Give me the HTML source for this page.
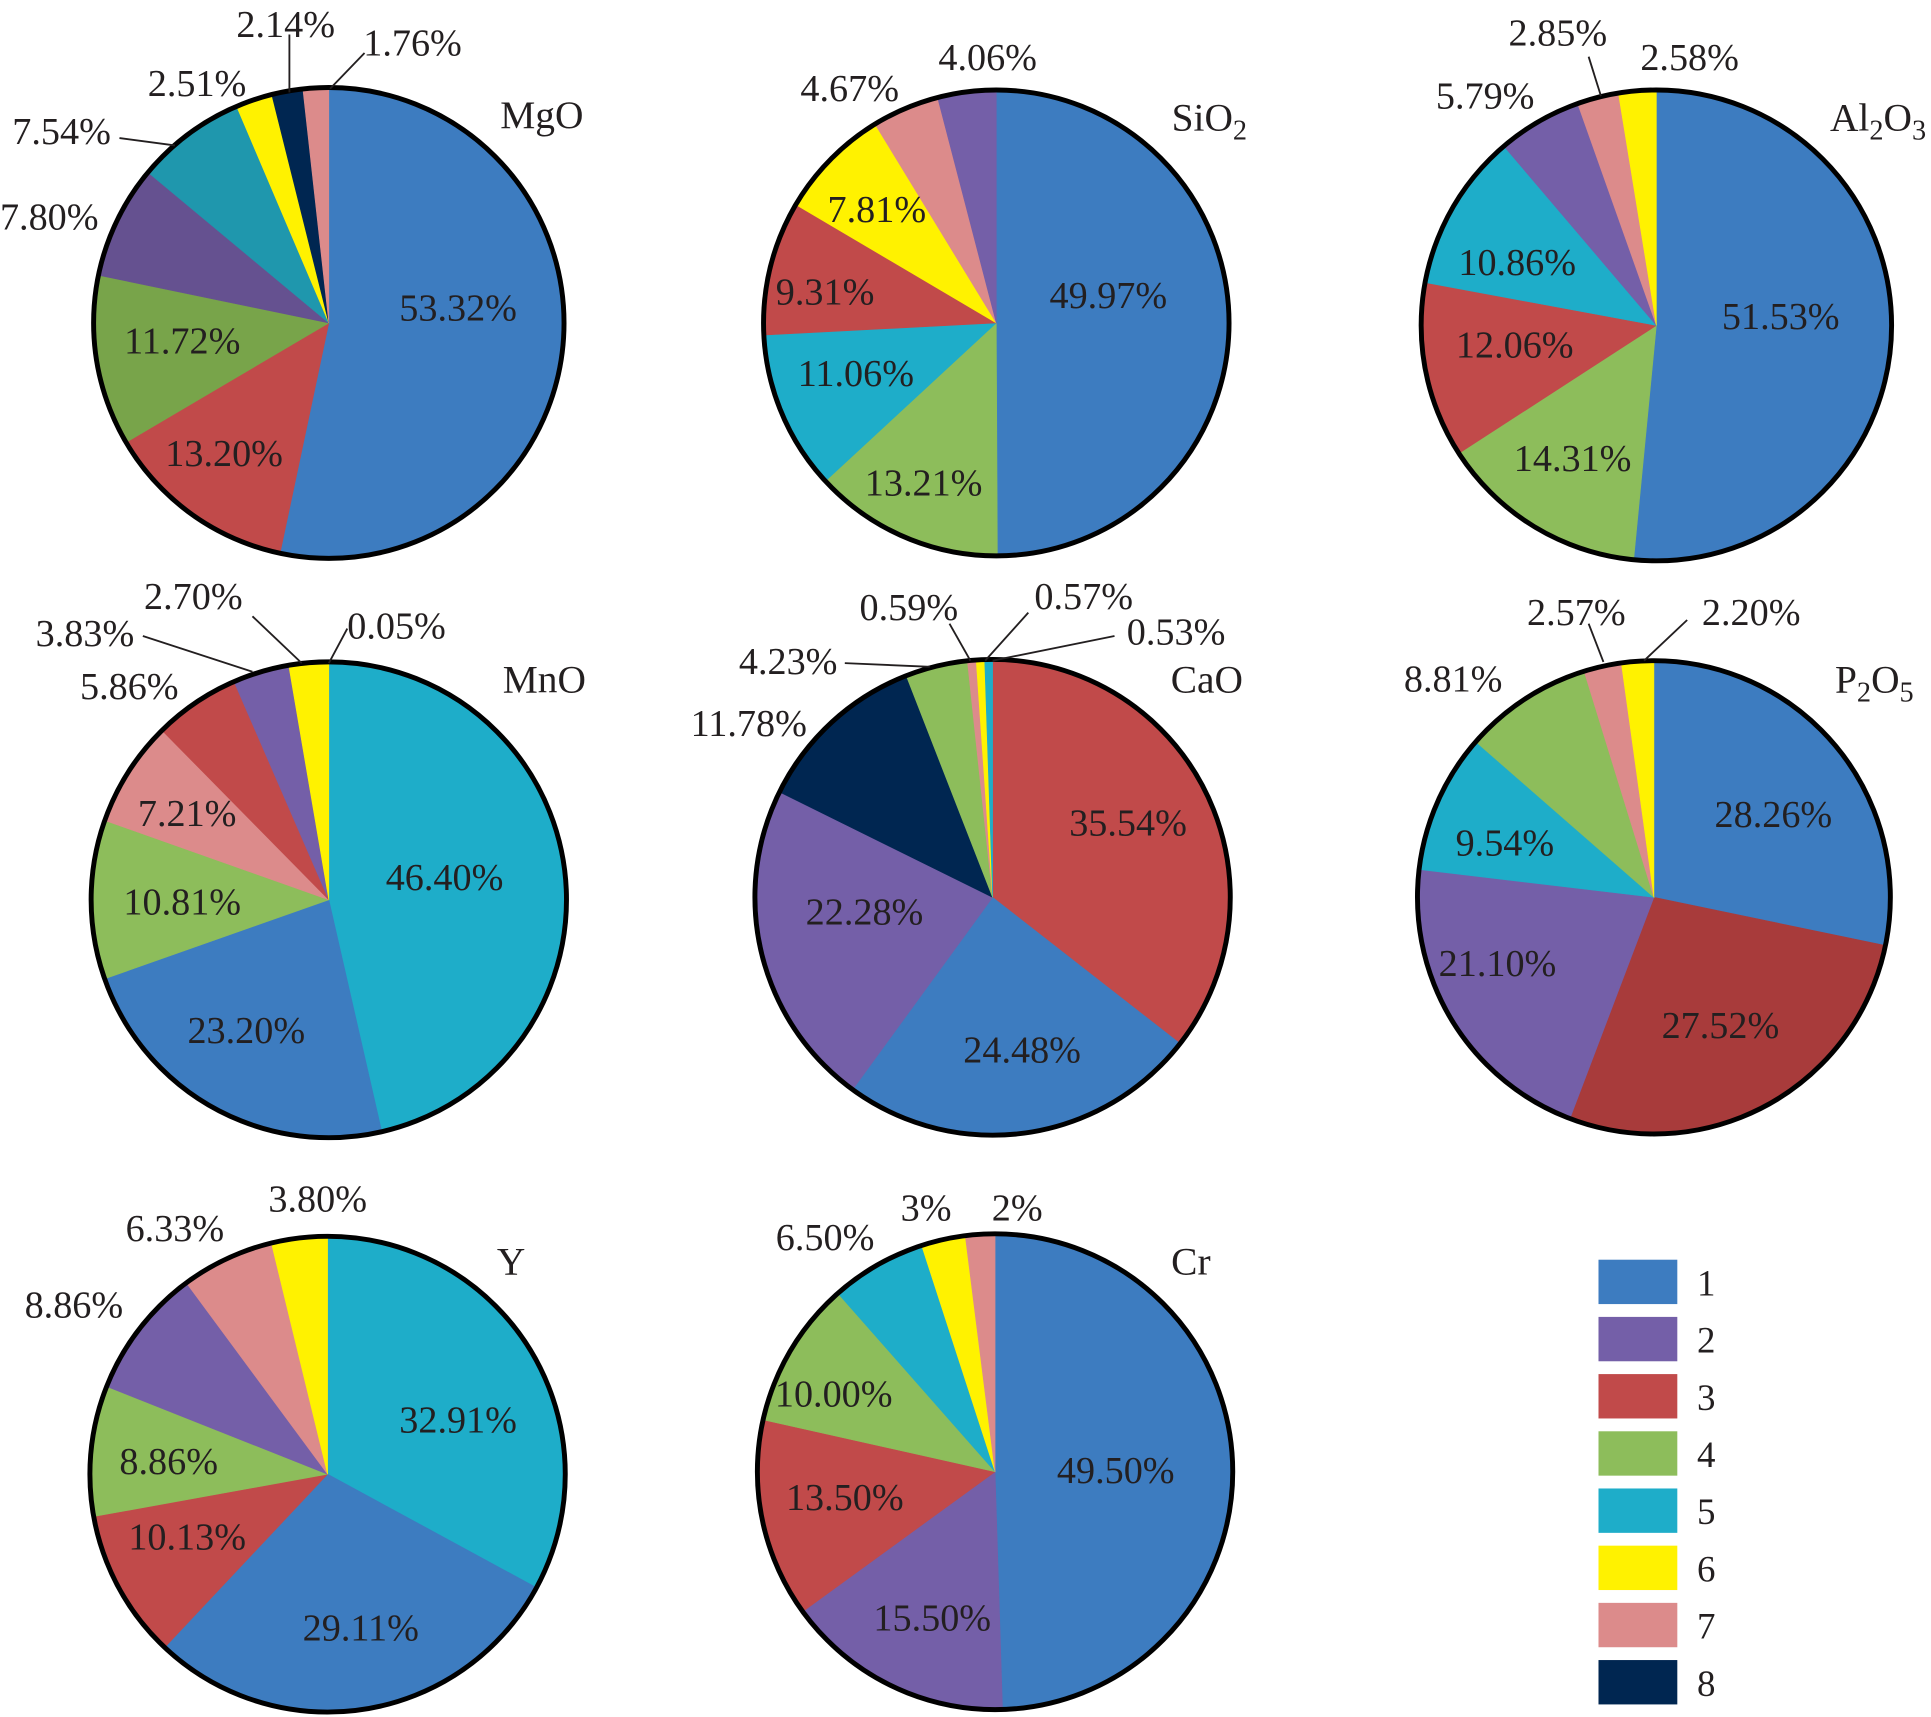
<!DOCTYPE html>
<html><head><meta charset="utf-8">
<style>
html,body{margin:0;padding:0;background:#fff;}
svg{display:block;}
text{font-family:"Liberation Serif",serif;fill:#231f20;}
</style></head>
<body>
<svg id="chart" width="1931" height="1717" viewBox="0 0 1568 1393" preserveAspectRatio="none" xmlns="http://www.w3.org/2000/svg">
</svg>
<script>
const colors = {1:'#3d7cc0',2:'#745fa8',3:'#c14a4a',4:'#8dbd5b',5:'#1eadc9',6:'#fff200',7:'#dc8b8b',8:'#002651'};
const titles = ['MgO','SiO2','Al2O3','MnO','CaO','P2O5','Y','Cr'];
const mgoCats = [1,3,4,2,5,6,8,7];
const mgoVals = [53.32,13.20,11.72,7.80,7.54,2.51,2.14,1.76];
const mgoLabels = ['53.32%','13.20%','11.72%','7.80%','7.54%','2.51%','2.14%','1.76%'];
const sio2Cats = [1,4,5,3,6,7,2];
const sio2Vals = [49.97,13.21,11.06,9.31,7.81,4.67,4.06];
const sio2Labels = ['49.97%','13.21%','11.06%','9.31%','7.81%','4.67%','4.06%'];
const al2o3Cats = [1,4,3,5,2,7,6];
const al2o3Vals = [51.53,14.31,12.06,10.86,5.79,2.85,2.58];
const al2o3Labels = ['51.53%','14.31%','12.06%','10.86%','5.79%','2.85%','2.58%'];
const mnoCats = [1,5,1,4,7,3,2,6];
const mnoVals = [0.05,46.40,23.20,10.81,7.21,5.86,3.83,2.70];
const mnoLabels = ['0.05%','46.40%','23.20%','10.81%','7.21%','5.86%','3.83%','2.70%'];
const caoCats = [3,1,2,8,4,7,6,5];
const caoVals = [35.54,24.48,22.28,11.78,4.23,0.59,0.57,0.53];
const caoLabels = ['35.54%','24.48%','22.28%','11.78%','4.23%','0.59%','0.57%','0.53%'];
const p2o5Cats = [1,3,2,5,4,7,6];
const p2o5Vals = [28.26,27.52,21.10,9.54,8.81,2.57,2.20];
const p2o5Labels = ['28.26%','27.52%','21.10%','9.54%','8.81%','2.57%','2.20%'];
const yCats = [5,1,3,4,2,7,6];
const yVals = [32.91,29.11,10.13,8.86,8.86,6.33,3.80];
const yLabels = ['32.91%','29.11%','10.13%','8.86%','8.86%','6.33%','3.80%'];
const crCats = [1,2,3,4,5,6,7];
const crVals = [49.50,15.50,13.50,10.00,6.50,3,2];
const crLabels = ['49.50%','15.50%','13.50%','10.00%','6.50%','3%','2%'];
const legendItems = ['1','2','3','4','5','6','7','8'];

// layout: label text centres and optional leader-line endpoints (not data)
const pies = [
 {cx:267,cy:262,r:191,tx:440,ty:104,cats:mgoCats,vals:mgoVals,labels:mgoLabels,ov:{3:'#655190',4:'#1f97ad',2:'#78a44a'},
  lp:[[372,250],[182,368],[148,277],[40,176],[50,107],[160,68],[232,20],[335,35]],
  ll:[null,null,null,null,[97,112,142,118],null,[235,28,235,75],[296,43,268,72]]},
 {cx:809,cy:262,r:189,tx:982,ty:106,cats:sio2Cats,vals:sio2Vals,labels:sio2Labels,
  lp:[[900,240],[750,392],[695,303],[670,237],[712,170],[690,72],[802,47]],ll:[]},
 {cx:1345,cy:264,r:191,tx:1525,ty:106,cats:al2o3Cats,vals:al2o3Vals,labels:al2o3Labels,
  lp:[[1446,257],[1277,372],[1230,280],[1232,213],[1206,78],[1265,27],[1372,47]],
  ll:[null,null,null,null,null,[1290,46,1300,78]]},
 {cx:267,cy:730,r:193,tx:442,ty:562,cats:mnoCats,vals:mnoVals,labels:mnoLabels,
  lp:[[322,508],[361,712],[200,836],[148,732],[152,660],[105,557],[69,514],[157,484]],
  ll:[[282,510,267,538],null,null,null,null,null,[116,516,205,545],[205,500,245,538]]},
 {cx:806,cy:728,r:193,tx:980,ty:562,cats:caoCats,vals:caoVals,labels:caoLabels,
  lp:[[916,668],[830,852],[702,740],[608,587],[640,537],[738,493],[880,484],[955,513]],
  ll:[null,null,null,null,[686,538,755,541],[771,506,788,536],[835,497,800,536],[905,516,806,536]]},
 {cx:1343,cy:728,r:192,tx:1522,ty:562,cats:p2o5Cats,vals:p2o5Vals,labels:p2o5Labels,ov:{1:'#a83b3b'},
  lp:[[1440,661],[1397,832],[1216,782],[1222,684],[1180,551],[1280,497],[1422,497]],
  ll:[null,null,null,null,null,[1290,506,1302,537],[1370,503,1335,536]]},
 {cx:266,cy:1196,r:193,tx:415,ty:1034,cats:yCats,vals:yVals,labels:yLabels,
  lp:[[372,1152],[293,1321],[152,1247],[137,1186],[60,1059],[142,997],[258,973]],ll:[]},
 {cx:808,cy:1194,r:193,tx:967,ty:1034,cats:crCats,vals:crVals,labels:crLabels,
  lp:[[906,1193],[757,1313],[686,1215],[677,1131],[670,1004],[752,980],[826,980]],ll:[]}
];
const svg = document.getElementById('chart');
const NS = 'http://www.w3.org/2000/svg';
function mk(tag, attrs){const e=document.createElementNS(NS,tag);for(const k in attrs)e.setAttribute(k,attrs[k]);return e;}
function pt(cx,cy,r,a){return [cx+r*Math.sin(a), cy-r*Math.cos(a)];}
function addTitle(g,t,x,y){
  const e=mk('text',{x:x,y:y,'font-size':32,'text-anchor':'middle'});
  
  
  let s=t.replace(/(\d)/g,'|$1|').split('|').filter(x=>x);
  let first=true;
  s.forEach(p=>{const ts=mk('tspan',{});ts.textContent=p;if(/\d/.test(p)){ts.setAttribute('font-size',23);ts.setAttribute('dy',7);} else if(!first){ts.setAttribute('dy',-7);} first=false; e.appendChild(ts);});
  g.appendChild(e);
}
pies.forEach((p,pi)=>{
  const g=mk('g',{});
  
  
  svg.appendChild(g);
  const total=p.vals.reduce((a,b)=>a+b,0);
  let a=0;
  p.vals.forEach((v,i)=>{
    const da=v/total*2*Math.PI;
    const a1=a+da;
    const [x0,y0]=pt(p.cx,p.cy,p.r,a),[x1,y1]=pt(p.cx,p.cy,p.r,a1);
    const col=(p.ov&&p.ov[i])||colors[p.cats[i]];
    const path=mk('path',{d:`M${p.cx},${p.cy}L${x0},${y0}A${p.r},${p.r} 0 ${da>Math.PI?1:0} 1 ${x1},${y1}Z`,fill:col,stroke:col,'stroke-width':0.5});
    
    
    g.appendChild(path);
    a=a1;
  });
  const c=mk('circle',{cx:p.cx,cy:p.cy,r:p.r,fill:'none',stroke:'#000','stroke-width':4});
  
  
  g.appendChild(c);
  p.vals.forEach((v,i)=>{
    const l=p.ll[i];
    if(l){
      const ln=mk('line',{x1:l[0],y1:l[1],x2:l[2],y2:l[3],stroke:'#231f20','stroke-width':1.5});
      
      
      g.appendChild(ln);
    }
    const [x,y]=p.lp[i];
    const t=mk('text',{x:x,y:y+10,'font-size':31,'text-anchor':'middle'});
    
    
    t.textContent=p.labels[i];
    g.appendChild(t);
  });
  addTitle(g,titles[pi],p.tx,p.ty);
});
const lg=mk('g',{});


svg.appendChild(lg);
legendItems.forEach((l,i)=>{
  const y=1022+i*46.4;
  const r=mk('rect',{x:1298,y:y,width:64,height:36,fill:colors[i+1]});
  
  
  lg.appendChild(r);
  const t=mk('text',{x:1378,y:y+29,'font-size':30});
  
  
  t.textContent=l;
  lg.appendChild(t);
});
</script>
</body></html>
